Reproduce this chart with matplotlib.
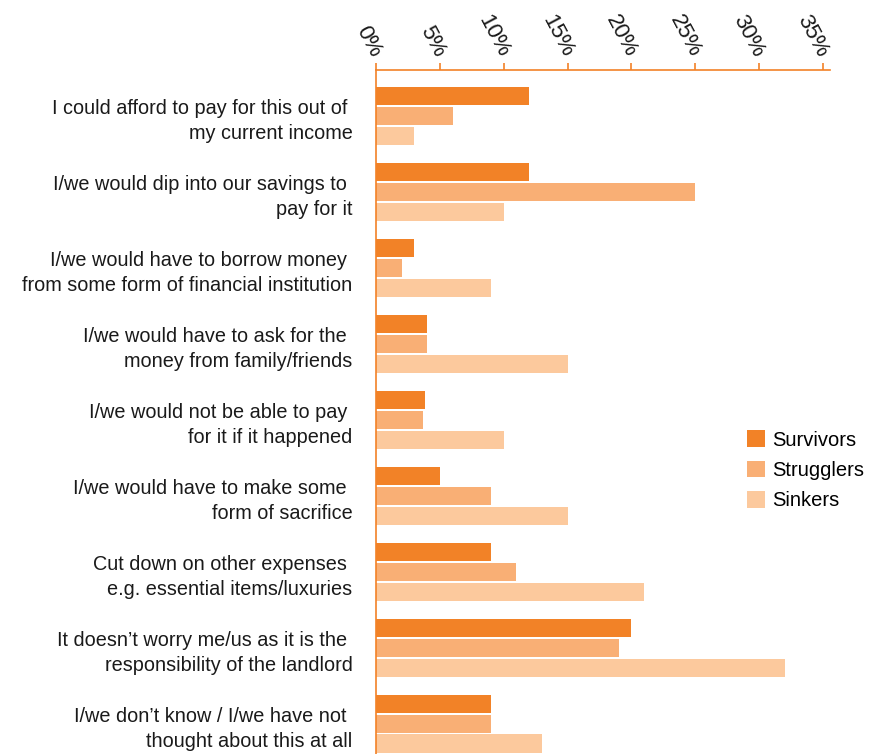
import numpy as np
import matplotlib.pyplot as plt

plt.rcParams['font.family'] = ['Liberation Sans', 'DejaVu Sans']

categories = [
    "I could afford to pay for this out of \nmy current income",
    "I/we would dip into our savings to \npay for it",
    "I/we would have to borrow money \nfrom some form of financial institution",
    "I/we would have to ask for the \nmoney from family/friends",
    "I/we would not be able to pay \nfor it if it happened",
    "I/we would have to make some \nform of sacrifice",
    "Cut down on other expenses \ne.g. essential items/luxuries",
    "It doesn\u2019t worry me/us as it is the \nresponsibility of the landlord",
    "I/we don\u2019t know / I/we have not \nthought about this at all",
]
survivors = [12, 12, 3, 4, 3.8, 5, 9, 20, 9]
strugglers = [6, 25, 2, 4, 3.7, 9, 11, 19, 9]
sinkers = [3, 10, 9, 15, 10, 15, 21, 32, 13]
series_names = ["Survivors", "Strugglers", "Sinkers"]
colors = ["#F28227", "#F9AF75", "#FCC99D"]
ticks = [0, 5, 10, 15, 20, 25, 30, 35]

fig = plt.figure(figsize=(8.74, 7.54), dpi=100)
ax = fig.add_axes([0.4302, 0.0, 0.5195, 0.9072])

y = np.arange(len(categories))
slot = 0.263
h = 0.24
for i, (vals, name, c) in enumerate(zip([survivors, strugglers, sinkers], series_names, colors)):
    ax.barh(y + (i - 1) * slot, vals, height=h, color=c, label=name)

ax.set_xlim(0, 35.55)
ax.set_ylim(8.4, -0.61)

ax.spines['right'].set_visible(False)
ax.spines['bottom'].set_visible(False)
for s in ['left', 'top']:
    ax.spines[s].set_color('#F28227')
    ax.spines[s].set_linewidth(1.2)

ax.xaxis.tick_top()
ax.set_xticks(ticks)
ax.set_xticklabels([f"{t}%" for t in ticks], rotation=-62, rotation_mode='anchor',
                   ha='right', va='center', fontsize=16)
ax.tick_params(axis='x', colors='#F28227', labelcolor='#1a1a1a', length=5, width=1.2, pad=5)

ax.set_yticks(y)
ax.set_yticklabels(categories, fontsize=14.3, ha='right', multialignment='right',
                   linespacing=1.4)
ax.tick_params(axis='y', length=0, pad=17, labelcolor='#1a1a1a')

leg = fig.legend(loc='upper left', bbox_to_anchor=(0.845, 0.44), frameon=False,
                 fontsize=14.5, handlelength=0.9, handleheight=0.9, handletextpad=0.35,
                 labelspacing=0.55, borderaxespad=0)

fig.savefig("out.png", dpi=100)
